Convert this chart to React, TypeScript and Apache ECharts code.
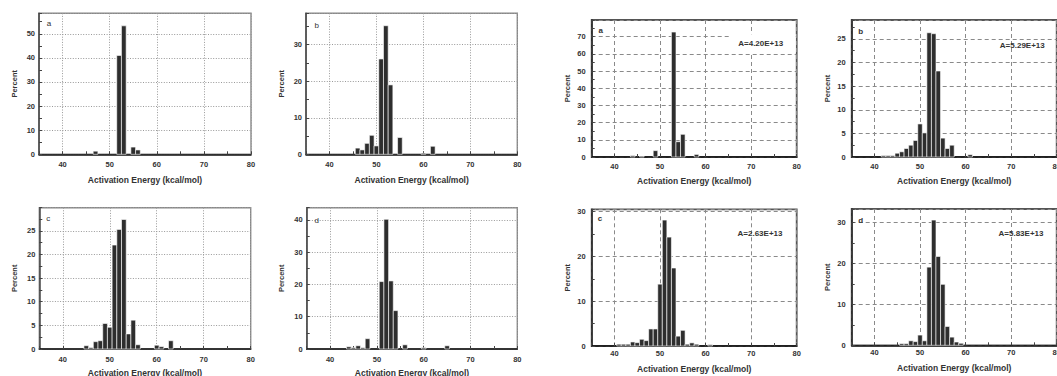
import React, { useEffect, useRef } from 'react';
import * as echarts from 'echarts';

// ---------- data ----------
const X_TITLE = 'Activation Energy (kcal/mol)';
const Y_TITLE = 'Percent';
const X_MIN = 35;
const X_MAX = 80;

// left block, panel a (top-left)
const E_L_A = [47, 52, 53, 55, 56];
const P_L_A = [1.3, 41, 53.3, 3, 1.8];
// left block, panel b
const E_L_B = [46, 47, 48, 49, 50, 51, 52, 53, 55, 60, 62];
const P_L_B = [1.7, 1.2, 3.0, 5.2, 2.3, 26.1, 35.2, 19.0, 4.6, 0.3, 2.2];
// right block, panel a
const E_R_A = [44, 46, 49, 53, 54, 55, 58];
const P_R_A = [0.8, 0.5, 3.7, 72.7, 8.9, 13.2, 1.5];
// right block, panel b
const E_R_B = [42, 43, 44, 45, 46, 47, 48, 49, 50, 51, 52, 53, 54, 55, 56, 57, 61];
const P_R_B = [0.3, 0.3, 0.3, 0.8, 1.1, 1.8, 2.5, 3.5, 7.0, 5.1, 26.3, 26.1, 18.2, 4.0, 1.8, 2.5, 0.5];
// left block, panel c
const E_L_C = [45, 46, 47, 48, 49, 50, 51, 52, 53, 54, 55, 56, 60, 61, 63];
const P_L_C = [0.7, 0.3, 1.55, 1.75, 5.4, 4.6, 22.0, 25.3, 27.4, 3.2, 6.1, 0.9, 0.8, 0.5, 1.75];
// left block, panel d
const E_L_D = [44, 45, 46, 47, 48, 51, 52, 53, 54, 56, 60, 65];
const P_L_D = [0.7, 0.4, 1.0, 0.4, 3.2, 20.9, 40.2, 21.1, 11.9, 1.3, 0.4, 1.0];
// right block, panel c
const E_R_C = [41, 42, 43, 44, 45, 46, 47, 48, 49, 50, 51, 52, 53, 54, 55, 56, 57, 58, 61];
const P_R_C = [0.4, 0.4, 0.4, 0.9, 0.75, 1.5, 1.2, 3.8, 3.8, 13.8, 28.1, 24.3, 17.4, 2.2, 3.5, 0.4, 0.7, 0.4, 0.3];
// right block, panel d
const E_R_D = [46, 47, 48, 49, 50, 51, 52, 53, 54, 55, 56, 57, 58, 59];
const P_R_D = [0.4, 0.4, 1.1, 0.9, 2.5, 1.1, 19.1, 30.6, 21.7, 14.9, 4.6, 2.0, 0.8, 0.5];

const ENERGIES = [E_L_A, E_L_B, E_R_A, E_R_B, E_L_C, E_L_D, E_R_C, E_R_D];
const PERCENTS = [P_L_A, P_L_B, P_R_A, P_R_B, P_L_C, P_L_D, P_R_C, P_R_D];
const Y_MAX = [58.5, 38.6, 79.7, 29, 29.9, 43.8, 30.5, 33.3];
const Y_STEP = [10, 10, 10, 5, 5, 10, 10, 10];
const LETTERS = ['a', 'b', 'a', 'b', 'c', 'd', 'c', 'd'];
const A_LABELS = ['', '', 'A=4.20E+13', 'A=5.29E+13', '', '', 'A=2.63E+13', 'A=5.83E+13'];

// ---------- layout ----------
const FONT = '"Liberation Sans", Arial, sans-serif';
const LAYOUT = [
  { left: 39, top: 13.3, width: 212, height: 141, dash: 'dotted', xm: 6, xg: 21, ym: 4, yg: 21, letter: [49, 23], a: null },
  { left: 306, top: 13.3, width: 211.3, height: 141, dash: 'dotted', xm: 6, xg: 21, ym: 4, yg: 21, letter: [316.7, 25], a: null },
  { left: 591.7, top: 20, width: 205, height: 137, dash: 'dashed', xm: 5, xg: 19, ym: 6, yg: 20, letter: [600.7, 30.7], a: [760.7, 43.3] },
  { left: 851.7, top: 20, width: 205, height: 137, dash: 'dashed', xm: 5, xg: 19, ym: 6, yg: 20, letter: [860.7, 31.7], a: [1022.3, 45] },
  { left: 39.3, top: 207.7, width: 211.4, height: 141.3, dash: 'dotted', xm: 6.5, xg: 19, ym: 4, yg: 21, letter: [48.3, 218.3], a: null },
  { left: 306.7, top: 207.7, width: 210.6, height: 141.3, dash: 'dotted', xm: 6.5, xg: 19, ym: 4, yg: 21, letter: [316.7, 220], a: null },
  { left: 591.7, top: 209.3, width: 205, height: 136.7, dash: 'dashed', xm: 3.5, xg: 18.5, ym: 6, yg: 20, letter: [600, 218.3], a: [760, 233.3] },
  { left: 851.7, top: 209, width: 205, height: 136.3, dash: 'dashed', xm: 3.5, xg: 18.5, ym: 6, yg: 20, letter: [860.7, 220], a: [1021, 233.3] },
];

const App: React.FC = () => {
  const ref = useRef<HTMLDivElement>(null);

  useEffect(() => {
    if (!ref.current) return;
    const chart = echarts.init(ref.current, undefined, { renderer: 'svg' });

    const grids: any[] = [];
    const xAxes: any[] = [];
    const yAxes: any[] = [];
    const series: any[] = [];
    const graphics: any[] = [];

    LAYOUT.forEach((L, i) => {
      const right = i === 2 || i === 3 || i === 6 || i === 7;
      const gridLine = {
        show: true,
        lineStyle: {
          color: right ? '#8a8a8a' : '#999',
          width: 1,
          type: L.dash === 'dotted' ? [1, 1.6] : [4, 3],
        },
      };
      grids.push({
        left: L.left,
        top: L.top,
        width: L.width,
        height: L.height,
        show: true,
        borderColor: right ? '#555' : '#888',
        borderWidth: right ? 1.8 : 1.4,
        containLabel: false,
        outerBoundsMode: 'none',
      });
      const labelStyle = { fontSize: 7.5, fontWeight: 'bold', color: '#333', fontFamily: FONT };
      const nameStyle = { fontSize: 8, fontWeight: 'bold', color: '#333', fontFamily: FONT };
      xAxes.push({
        gridIndex: i,
        type: 'value',
        min: X_MIN,
        max: X_MAX,
        axisLine: { show: true, onZero: false, lineStyle: { color: '#111', width: 1.5 } },
        axisTick: { show: true, inside: true, length: 3, lineStyle: { color: '#444' } },
        minorTick: { show: true, splitNumber: 2, length: 3, lineStyle: { color: '#444' } },
        splitLine: gridLine,
        axisLabel: {
          ...labelStyle,
          margin: L.xm,
          formatter: (v: number) => (v % 10 === 0 ? String(v) : ''),
        },
        name: X_TITLE,
        nameLocation: 'middle',
        nameGap: L.xg,
        nameTextStyle: { ...nameStyle, fontSize: 8.5 },
      });
      const step = Y_STEP[i];
      yAxes.push({
        gridIndex: i,
        type: 'value',
        min: 0,
        max: Y_MAX[i],
        interval: step,
        axisLine: { show: true, lineStyle: { color: right ? '#222' : '#444', width: 1.5 } },
        axisTick: { show: true, inside: true, length: 3, lineStyle: { color: '#444' } },
        minorTick: { show: true, splitNumber: 2, length: 3, lineStyle: { color: '#444' } },
        splitLine: gridLine,
        axisLabel: {
          ...labelStyle,
          margin: L.ym,
          showMaxLabel: false,
          formatter: (v: number) => {
            const r = v / step;
            return Math.abs(r - Math.round(r)) < 1e-6 ? String(v) : '';
          },
        },
        name: Y_TITLE,
        nameLocation: 'middle',
        nameGap: L.yg,
        nameRotate: 90,
        nameTextStyle: { ...nameStyle, fontSize: 7.5 },
      });
      series.push({
        type: 'custom',
        xAxisIndex: i,
        yAxisIndex: i,
        silent: true,
        z: 3,
        encode: { x: 0, y: 1 },
        data: ENERGIES[i].map((e, k) => [e, PERCENTS[i][k]]),
        renderItem: (_p: any, api: any) => {
          const x = api.value(0);
          const y = api.value(1);
          const p0 = api.coord([x - 0.5, y]);
          const p1 = api.coord([x + 0.5, 0]);
          return {
            type: 'rect',
            shape: { x: p0[0], y: p0[1], width: p1[0] - p0[0], height: p1[1] - p0[1] },
            style: { fill: '#2e2e2e', stroke: '#fff', lineWidth: 0.6 },
          };
        },
      });
      graphics.push({
        type: 'text',
        x: L.letter[0],
        y: L.letter[1],
        z: 10,
        style: {
          text: LETTERS[i],
          fontSize: 8,
          fontWeight: right ? 'bold' : 'normal',
          fontFamily: FONT,
          fill: '#333',
          align: 'center',
          verticalAlign: 'middle',
        },
      });
      if (L.a && A_LABELS[i]) {
        if (i === 2) {
          graphics.push({
            type: 'rect',
            z: 9,
            shape: { x: L.a[0] - 31, y: L.a[1] - 9, width: 66, height: 19 },
            style: { fill: '#fff' },
          });
        }
        graphics.push({
          type: 'text',
          x: L.a[0],
          y: L.a[1],
          z: 10,
          style: {
            text: A_LABELS[i],
            fontSize: 8,
            fontWeight: 'bold',
            fontFamily: FONT,
            fill: '#333',
            align: 'center',
            verticalAlign: 'middle',
          },
        });
      }
    });

    chart.setOption({
      animation: false,
      backgroundColor: '#fff',
      grid: grids,
      xAxis: xAxes,
      yAxis: yAxes,
      series,
      graphic: graphics,
    });

    return () => chart.dispose();
  }, []);

  return (
    <div
      ref={ref}
      style={{ position: 'fixed', left: 0, top: 0, width: 1057, height: 376, background: '#fff' }}
    />
  );
};

export default App;
